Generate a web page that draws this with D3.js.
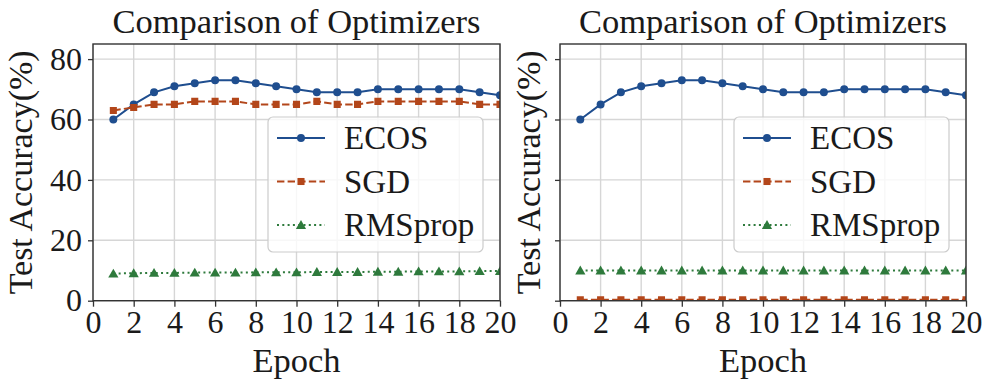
<!DOCTYPE html>
<html><head><meta charset="utf-8">
<script src="https://cdn.jsdelivr.net/npm/d3@7"></script>
<style>body{margin:0;background:#fff}svg{display:block}text{font-family:"Liberation Serif","Times New Roman",serif;fill:#1a1a1a}</style>
</head><body><svg id="c" width="996" height="391"></svg>
<script>
const epochs = d3.range(1, 21);
const xTicks = [0,2,4,6,8,10,12,14,16,18,20];
const yTicks = [0,20,40,60,80];
const seriesNames = ["ECOS","SGD","RMSprop"];
// Left panel
const leftECOS = [60,65,69,71,72,73,73,72,71,70,69,69,69,70,70,70,70,70,69,68];
const leftSGD = [63,64,65,65,66,66,66,65,65,65,66,65,65,66,66,66,66,66,65,65];
const leftRMS = [9.0,9.1,9.2,9.2,9.3,9.3,9.3,9.4,9.4,9.4,9.5,9.5,9.5,9.6,9.6,9.7,9.7,9.7,9.8,9.8];
// Right panel
const rightECOS = [60,65,69,71,72,73,73,72,71,70,69,69,69,70,70,70,70,70,69,68];
const rightSGD = [0.3,0.3,0.3,0.3,0.3,0.3,0.3,0.3,0.3,0.3,0.3,0.3,0.3,0.3,0.3,0.3,0.3,0.3,0.3,0.3];
const rightRMS = [10,10,10,10,10,10,10,10,10,10,10,10,10,10,10,10,10,10,10,10];

const title = "Comparison of Optimizers";
const xLabel = "Epoch";
const yLabel = "Test Accuracy(%)";

const colors = {ECOS:"#1f4e8f", SGD:"#b3461a", RMSprop:"#2e7a3c"};
const svg = d3.select("#c");

const panels = [
  {x0:93, x1:500, data:[leftECOS,leftSGD,leftRMS], yLabels:true, ylx:32, id:"a"},
  {x0:560, x1:966, data:[rightECOS,rightSGD,rightRMS], yLabels:false, ylx:540, id:"b"}
];
const yTop = 44, yBot = 300.7;

panels.forEach(p => {
  const x = d3.scaleLinear().domain([0,20]).range([p.x0,p.x1]);
  const y = d3.scaleLinear().domain([0,85]).range([yBot,yTop]);
  const g = svg.append("g");
  g.append("clipPath").attr("id","clip"+p.id).append("rect")
    .attr("x",p.x0).attr("y",yTop).attr("width",p.x1-p.x0).attr("height",yBot-yTop);
  // grid
  g.selectAll(".gx").data(xTicks).join("line")
    .attr("x1",d=>x(d)).attr("x2",d=>x(d)).attr("y1",yTop).attr("y2",yBot)
    .attr("stroke","#d6d6d6").attr("stroke-width",1.4);
  g.selectAll(".gy").data(yTicks).join("line")
    .attr("y1",d=>y(d)).attr("y2",d=>y(d)).attr("x1",p.x0).attr("x2",p.x1)
    .attr("stroke","#d6d6d6").attr("stroke-width",1.4);
  // axes
  const xa = g.append("g").attr("transform",`translate(0,${yBot})`)
    .call(d3.axisBottom(x).tickValues(xTicks).tickSize(6).tickPadding(5).tickFormat(d3.format("d")));
  const ya = g.append("g").attr("transform",`translate(${p.x0},0)`)
    .call(d3.axisLeft(y).tickValues(yTicks).tickSize(5).tickPadding(6).tickFormat(p.yLabels? d3.format("d") : ""));
  [xa,ya].forEach(a=>{
    a.select(".domain").remove();
    a.selectAll(".tick line").attr("stroke","#333").attr("stroke-width",1.3);
    a.selectAll(".tick text").attr("font-size",32).attr("fill","#1a1a1a")
      .style("font-family","'Liberation Serif','Times New Roman',serif");
  });
  xa.selectAll(".tick text").attr("dy","0.68em");
  // lines
  const lg = g.append("g").attr("clip-path",`url(#clip${p.id})`);
  const styles = [
    {name:"ECOS", dash:null, marker:"circle"},
    {name:"SGD", dash:"7.4,3.2", marker:"square"},
    {name:"RMSprop", dash:"2,3.3", marker:"triangle"}
  ];
  styles.forEach((s,i)=>{
    const vals = p.data[i];
    const line = d3.line().x((d,j)=>x(epochs[j])).y(d=>y(d));
    lg.append("path").datum(vals).attr("d",line).attr("fill","none")
      .attr("stroke",colors[s.name]).attr("stroke-width",2)
      .attr("stroke-dasharray",s.dash);
    const sym = s.marker==="circle"? d3.symbolCircle : s.marker==="square"? d3.symbolSquare : d3.symbolTriangle;
    const size = s.marker==="circle"? 50 : s.marker==="square"? 50 : 45;
    lg.selectAll(null).data(vals).join("path")
      .attr("d",d3.symbol().type(sym).size(size))
      .attr("transform",(d,j)=>`translate(${x(epochs[j])},${y(d)+(s.marker==="triangle"?1:0)})`)
      .attr("fill",colors[s.name]);
  });
  // spines
  g.append("rect").attr("x",p.x0).attr("y",yTop).attr("width",p.x1-p.x0).attr("height",yBot-yTop)
    .attr("fill","none").attr("stroke","#333").attr("stroke-width",1.4);
  // title
  g.append("text").attr("x",(p.x0+p.x1)/2).attr("y",33).attr("text-anchor","middle")
    .attr("font-size",34.5).text(title);
  g.append("text").attr("x",(p.x0+p.x1)/2).attr("y",372).attr("text-anchor","middle")
    .attr("font-size",34.5).text(xLabel);
  g.append("text").attr("transform",`translate(${p.ylx},${(yTop+yBot)/2}) rotate(-90)`)
    .attr("text-anchor","middle").attr("font-size",34).text(yLabel);
  // legend
  const lx = p.x1-232, ly = 117, lw = 215, lh = 135;
  const leg = g.append("g");
  leg.append("rect").attr("x",lx).attr("y",ly).attr("width",lw).attr("height",lh)
    .attr("rx",5).attr("fill","#fff").attr("fill-opacity",0.8).attr("stroke","#cccccc").attr("stroke-width",1.2);
  styles.forEach((s,i)=>{
    const yy = ly+21+i*43.5;
    leg.append("line").attr("x1",lx+9).attr("x2",lx+57).attr("y1",yy).attr("y2",yy)
      .attr("stroke",colors[s.name]).attr("stroke-width",2).attr("stroke-dasharray",s.dash);
    const sym = s.marker==="circle"? d3.symbolCircle : s.marker==="square"? d3.symbolSquare : d3.symbolTriangle;
    leg.append("path").attr("d",d3.symbol().type(sym).size(s.marker==="triangle"?45:50))
      .attr("transform",`translate(${lx+33},${yy+(s.marker==="triangle"?1:0)})`).attr("fill",colors[s.name]);
    leg.append("text").attr("x",lx+76).attr("y",yy+11).attr("font-size",33).text(seriesNames[i]);
  });
});
</script></body></html>
